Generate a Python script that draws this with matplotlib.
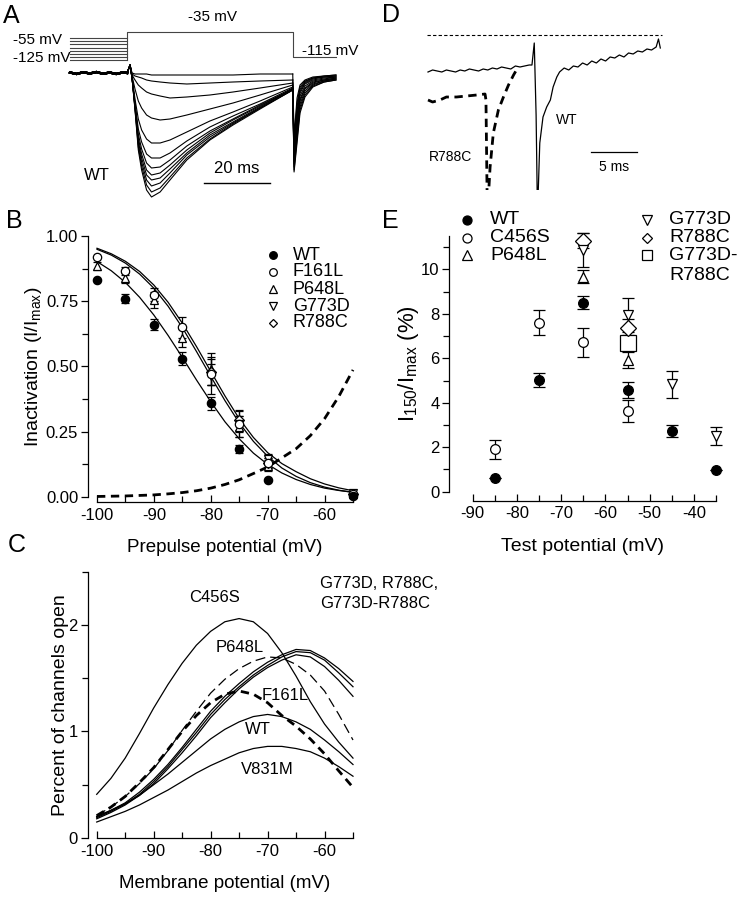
import numpy as np
import matplotlib
matplotlib.use("Agg")
import matplotlib.pyplot as plt

plt.rcParams['font.family'] = ['Liberation Sans', 'DejaVu Sans']
plt.rcParams['mathtext.fontset'] = 'custom'
plt.rcParams['mathtext.rm'] = 'Liberation Sans'
plt.rcParams['axes.unicode_minus'] = False

W, H = 738, 900

# ---------------- data ----------------
# A: voltage protocol (mV) and current traces (nA)
prepulse_mv = [-55, -65, -75, -85, -95, -105, -115, -125]
test_mv = -35
tail_mv = -115
t_prepulse_end = 17.3
t_test_end = 67.6
t_tail_end = 80.6

t_base = [0, 2, 4, 6, 8, 10, 12, 14, 16, 17.3]
i_base = [0.05, -0.1, 0.08, -0.05, 0.1, -0.08, 0.05, -0.1, 0.06, 0.0]
t_main = [17.3, 18.2, 18.8, 19.7, 20.7, 21.7, 23.2, 24.7, 27.3, 30.3, 35.4, 42.4, 49.4, 57.6, 67.5]
traces_main = [
    [0, 0.8, 0.0, -0.1, -0.1, -0.1, -0.1, -0.2, -0.2, -0.2, -0.2, -0.2, -0.2, -0.1, -0.1],
    [0, 0.8, -0.1, -0.3, -0.4, -0.5, -0.7, -0.8, -0.9, -1.0, -1.1, -1.0, -0.9, -0.8, -0.7],
    [0, 0.8, -0.2, -0.7, -1.2, -1.5, -1.9, -2.1, -2.3, -2.5, -2.4, -2.2, -1.9, -1.5, -1.0],
    [0, 0.8, -0.3, -1.6, -2.8, -3.5, -4.2, -4.5, -4.7, -4.6, -4.2, -3.6, -3.0, -2.2, -1.2],
    [0, 0.8, -0.4, -2.6, -4.6, -5.7, -6.6, -7.0, -7.0, -6.7, -5.9, -4.8, -3.9, -2.8, -1.4],
    [0, 0.8, -0.5, -3.0, -5.6, -6.9, -8.1, -8.5, -8.5, -8.0, -6.8, -5.4, -4.3, -3.1, -1.5],
    [0, 0.8, -0.5, -3.2, -6.1, -7.6, -9.0, -9.5, -9.4, -8.7, -7.3, -5.8, -4.6, -3.2, -1.6],
    [0, 0.8, -0.5, -3.3, -6.5, -8.1, -9.7, -10.2, -10.0, -9.2, -7.7, -6.0, -4.7, -3.3, -1.6],
    [0, 0.8, -0.5, -3.4, -6.8, -8.5, -10.2, -10.7, -10.5, -9.6, -8.0, -6.2, -4.9, -3.4, -1.6],
    [0, 0.8, -0.5, -3.5, -7.1, -8.9, -10.7, -11.3, -11.0, -10.0, -8.2, -6.4, -5.0, -3.5, -1.7],
    [0, 0.8, -0.5, -3.6, -7.4, -9.3, -11.2, -11.9, -11.5, -10.4, -8.5, -6.6, -5.1, -3.5, -1.7],
    [0, 0.8, -0.5, -3.7, -7.7, -9.7, -11.7, -12.4, -11.9, -10.7, -8.7, -6.7, -5.2, -3.6, -1.7],
]
t_tail = [67.5, 67.9, 68.8, 69.7, 71.2, 73.6, 77.0, 80.6]
traces_tail = [
    [-0.1, -6.4, -2.5, -1.2, -0.7, -0.4, -0.3, -0.2],
    [-0.7, -6.8, -3.0, -1.4, -0.8, -0.5, -0.3, -0.2],
    [-1.0, -7.2, -3.4, -1.6, -0.9, -0.5, -0.4, -0.3],
    [-1.2, -7.6, -3.8, -1.8, -1.0, -0.6, -0.4, -0.3],
    [-1.4, -7.9, -4.2, -2.0, -1.1, -0.7, -0.5, -0.4],
    [-1.5, -8.2, -4.6, -2.3, -1.3, -0.8, -0.6, -0.4],
    [-1.6, -8.5, -5.0, -2.6, -1.5, -0.9, -0.7, -0.5],
    [-1.6, -8.8, -5.4, -2.8, -1.6, -1.0, -0.7, -0.5],
    [-1.6, -9.1, -5.8, -3.1, -1.8, -1.1, -0.8, -0.6],
    [-1.7, -9.4, -6.2, -3.4, -2.0, -1.2, -0.8, -0.6],
    [-1.7, -9.7, -6.6, -3.7, -2.2, -1.3, -0.9, -0.7],
    [-1.7, -9.9, -7.0, -4.0, -2.4, -1.4, -0.9, -0.7],
]

# B: steady-state inactivation
v_b = [-100, -95, -90, -85, -80, -75, -70, -55]
wt_b = [0.83, 0.76, 0.66, 0.53, 0.36, 0.185, 0.065, 0.003]
wt_b_err = [0.0, 0.017, 0.022, 0.025, 0.025, 0.016, 0.0, 0.0]
f161l_b = [0.92, 0.865, 0.775, 0.65, 0.47, 0.28, 0.13, 0.012]
f161l_b_err = [0.0, 0.015, 0.025, 0.04, 0.04, 0.03, 0.02, 0.0]
p648l_b = [0.885, 0.84, 0.755, 0.61, 0.49, 0.27, 0.12, 0.01]
p648l_b_err = [0.015, 0.02, 0.03, 0.035, 0.06, 0.04, 0.02, 0.0]
v_b2 = [-80, -75, -70, -55]
g773d_b = [0.465, 0.28, 0.145, 0.015]
g773d_b_err = [0.07, 0.05, 0.02, 0.0]
r788c_b = [0.48, 0.295, 0.13, 0.012]
r788c_b_err = [0.05, 0.04, 0.02, 0.0]

v_fit = [-100, -97.5, -95, -92.5, -90, -87.5, -85, -82.5, -80, -77.5, -75,
         -72.5, -70, -67.5, -65, -62.5, -60, -57.5, -55]
fit_wt = [0.902, 0.867, 0.822, 0.765, 0.697, 0.619, 0.535, 0.448, 0.365, 0.288,
          0.223, 0.168, 0.125, 0.092, 0.067, 0.048, 0.034, 0.025, 0.018]
fit_mut1 = [0.953, 0.932, 0.903, 0.864, 0.812, 0.746, 0.666, 0.576, 0.481, 0.387,
            0.300, 0.228, 0.170, 0.128, 0.097, 0.070, 0.050, 0.035, 0.024]
fit_mut2 = [0.949, 0.927, 0.896, 0.854, 0.800, 0.731, 0.649, 0.557, 0.462, 0.369,
            0.284, 0.213, 0.156, 0.111, 0.079, 0.055, 0.038, 0.026, 0.018]
act_b = [0.002, 0.003, 0.004, 0.006, 0.008, 0.012, 0.017, 0.024, 0.034, 0.048,
         0.066, 0.09, 0.115, 0.15, 0.185, 0.235, 0.30, 0.385, 0.487]

# C: window currents
c456s_c = [0.41, 0.56, 0.75, 0.98, 1.22, 1.44, 1.64, 1.81, 1.94, 2.03, 2.06,
           2.03, 1.92, 1.74, 1.52, 1.28, 1.07, 0.90, 0.75]
p648l_c = [0.21, 0.29, 0.39, 0.51, 0.65, 0.82, 1.01, 1.19, 1.36, 1.49, 1.59,
           1.66, 1.70, 1.69, 1.63, 1.53, 1.38, 1.16, 0.92]
f161l_c = [0.21, 0.29, 0.39, 0.52, 0.66, 0.83, 1.00, 1.15, 1.27, 1.35, 1.38,
           1.35, 1.27, 1.15, 1.05, 0.93, 0.79, 0.63, 0.475]
wt_c = [0.20, 0.26, 0.32, 0.40, 0.50, 0.60, 0.71, 0.82, 0.93, 1.02, 1.09,
        1.14, 1.16, 1.14, 1.09, 1.02, 0.92, 0.81, 0.69]
v831m_c = [0.15, 0.20, 0.25, 0.31, 0.38, 0.45, 0.53, 0.61, 0.68, 0.74, 0.80,
           0.84, 0.86, 0.86, 0.84, 0.81, 0.75, 0.67, 0.58]
g773d_c = [0.20, 0.26, 0.33, 0.43, 0.55, 0.69, 0.85, 1.02, 1.19, 1.33, 1.45,
           1.56, 1.65, 1.72, 1.77, 1.76, 1.69, 1.59, 1.47]
r788c_c = [0.19, 0.25, 0.32, 0.41, 0.53, 0.67, 0.83, 0.99, 1.16, 1.30, 1.42,
           1.53, 1.62, 1.70, 1.75, 1.74, 1.67, 1.55, 1.42]
dbl_c = [0.18, 0.24, 0.31, 0.40, 0.51, 0.65, 0.80, 0.96, 1.13, 1.27, 1.40,
         1.51, 1.60, 1.67, 1.72, 1.70, 1.61, 1.48, 1.33]

# D: R788C vs WT traces
t_wt_d = [0, 0.5, 1, 1.5, 2, 2.5, 3, 3.5, 4, 4.5, 5, 5.5, 6, 6.5, 7, 7.5, 8, 8.5,
          9, 9.5, 10, 10.5, 11, 11.3, 11.55, 11.75, 11.9, 12.15, 12.5, 12.9, 13.3,
          13.6, 14.0, 14.3, 14.8, 15.3, 15.8, 16.3, 16.8, 17.3, 17.8, 18.3, 18.8,
          19.3, 19.8, 20.3, 20.8, 21.3, 21.8, 22.3, 22.8, 23.3, 23.8, 24.3, 24.8,
          25.05, 25.25]
i_wt_d = [-3.7, -3.5, -3.6, -3.7, -3.5, -3.6, -3.7, -3.5, -3.6, -3.4, -3.5, -3.6,
          -3.4, -3.5, -3.3, -3.4, -3.2, -3.3, -3.4, -3.1, -3.2, -3.1, -3.0, -3.0,
          -0.8, -8.0, -18.0, -10.8, -8.2, -7.2, -6.5, -5.2, -4.2, -3.7, -3.3,
          -3.5, -3.1, -3.2, -2.8, -3.0, -2.6, -2.8, -2.4, -2.6, -2.2, -2.3, -2.0,
          -2.2, -1.8, -1.9, -1.6, -1.7, -1.4, -1.5, -1.2, -0.4, -1.3]
t_r788c_d = [0, 0.5, 1.3, 2.0, 3.1, 4.2, 5.3, 6.2, 6.3, 6.45, 6.75, 7.1, 7.65,
             8.2, 8.75, 9.3, 9.8]
i_r788c_d = [-6.5, -6.7, -6.5, -6.2, -6.2, -6.1, -6.0, -5.9, -6.5, -18.0, -13.2,
             -9.8, -7.5, -6.2, -5.0, -4.0, -3.2]

# E: I150/Imax
v_e = [-85, -75, -65, -55, -45, -35]
wt_e = [0.6, 5.02, 8.5, 4.57, 2.73, 0.97]
wt_e_err = [0.0, 0.32, 0.3, 0.37, 0.25, 0.0]
v_e_c456s = [-85, -75, -65, -55]
c456s_e = [1.9, 7.6, 6.72, 3.63]
c456s_e_err = [0.42, 0.55, 0.65, 0.5]
v_e_p648l = [-65, -55]
p648l_e = [9.67, 5.92]
p648l_e_err = [0.28, 0.35]
v_e_g773d = [-65, -55, -45, -35]
g773d_e = [10.87, 7.95, 4.83, 2.5]
g773d_e_err = [0.75, 0.75, 0.62, 0.4]
v_e_r788c = [-65, -55]
r788c_e = [11.29, 7.35]
r788c_e_err = [0.35, 0.4]
v_e_dbl = [-55]
dbl_e = [6.7]
dbl_e_err = [0.35]


# ---------------- helpers ----------------
def add_ax(l, t, r, b):
    return fig.add_axes([l / W, 1 - b / H, (r - l) / W, (b - t) / H])


def ftext(x, y, s, **kw):
    fig.text(x / W, 1 - y / H, s, **kw)


def fmark(x, y, marker, filled, size):
    fc = 'black' if filled else 'white'
    fig.add_artist(plt.Line2D([x / W], [1 - y / H], marker=marker, ms=size,
                              mfc=fc, mec='black', mew=0.9, ls='none',
                              transform=fig.transFigure))


def style_axes(ax, left_out, bottom_out):
    for s in ['top', 'right']:
        ax.spines[s].set_visible(False)
    ax.spines['left'].set_position(('outward', left_out))
    ax.spines['bottom'].set_position(('outward', bottom_out))
    ax.spines['left'].set_linewidth(0.9)
    ax.spines['bottom'].set_linewidth(0.9)
    ax.tick_params(axis='x', which='both', direction='in', width=0.9, labelsize=12, pad=4)
    ax.tick_params(axis='y', which='both', direction='out', width=0.9, labelsize=12, pad=2)
    ax.tick_params(which='major', length=5)
    ax.tick_params(which='minor', length=4)
    ax.patch.set_visible(False)


fig = plt.figure(figsize=(7.38, 9.0), dpi=100)

# ---------------- A ----------------
axA = add_ax(60, 0, 360, 205)
axA.set_xlim((60 - 70) / 3.3, (360 - 70) / 3.3)
axA.set_ylim(-13.2, 7.3)
axA.axis('off')
for tm, tt in zip(traces_main, traces_tail):
    axA.plot(t_base, i_base, color='black', lw=1.6)
    axA.plot(t_main, tm, color='black', lw=0.8)
    axA.plot(t_tail, tt, color='black', lw=0.8)
axA.plot([40.6, 60.6], [-11.0, -11.0], color='black', lw=1.0)
axA.text(50.6, -10.3, '20 ms', ha='center', va='bottom', fontsize=12)
axA.text(8.2, -10.2, 'WT', ha='center', va='center', fontsize=12)

axV = add_ax(60, 0, 360, 205)
axV.set_xlim((60 - 70) / 3.3, (360 - 70) / 3.3)
axV.set_ylim(-591, 67.9)
axV.axis('off')
for v in prepulse_mv:
    axV.plot([0, t_prepulse_end], [v, v], color='#444444', lw=0.8)
axV.plot([t_prepulse_end, t_prepulse_end, t_test_end, t_test_end, t_tail_end],
         [min(prepulse_mv), test_mv, test_mv, tail_mv, tail_mv], color='#444444', lw=0.8)
ftext(13, 40, '-55 mV', ha='left', va='center', fontsize=11)
ftext(13, 58, '-125 mV', ha='left', va='center', fontsize=11)
ftext(213, 17, '-35 mV', ha='center', va='center', fontsize=11)
ftext(302, 51, '-115 mV', ha='left', va='center', fontsize=11)

# ---------------- B ----------------
axB = add_ax(97, 236, 353, 497)
style_axes(axB, 6.5, 3.6)
axB.set_xlim(-100, -55)
axB.set_ylim(0, 1)
axB.set_xticks([-100, -90, -80, -70, -60])
axB.set_xticks([-95, -85, -75, -65, -55], minor=True)
axB.set_yticks([0, 0.25, 0.5, 0.75, 1.0])
axB.set_yticklabels(['0.00', '0.25', '0.50', '0.75', '1.00'])
axB.set_yticks([0.125, 0.375, 0.625, 0.875], minor=True)
axB.plot(v_fit, fit_wt, color='black', lw=0.9, clip_on=False)
axB.plot(v_fit, fit_mut1, color='black', lw=0.9, clip_on=False)
axB.plot(v_fit, fit_mut2, color='black', lw=0.9, clip_on=False)
axB.plot(v_fit, act_b, color='black', lw=2.0, ls=(0, (3, 2)), clip_on=False)
ekw = dict(color='black', elinewidth=0.9, capsize=3, capthick=0.9, ls='none',
           ms=6, mec='black', mew=0.9, clip_on=False)
axB.errorbar(v_b, p648l_b, yerr=p648l_b_err, marker='^', mfc='white', **ekw)
axB.errorbar(v_b2, r788c_b, yerr=r788c_b_err, marker='D', mfc='white', **dict(ekw, ms=5))
axB.errorbar(v_b2, g773d_b, yerr=g773d_b_err, marker='v', mfc='white', **ekw)
axB.errorbar(v_b, f161l_b, yerr=f161l_b_err, marker='o', mfc='white', **ekw)
axB.errorbar(v_b, wt_b, yerr=wt_b_err, marker='o', mfc='black', **ekw)
axB.set_xlabel('Prepulse potential (mV)', fontsize=13.5, labelpad=12)
axB.set_ylabel(r'Inactivation ($\mathregular{I/I_{max}}$)', fontsize=14, labelpad=1)

leg_b = [('WT', 'o', True), ('F161L', 'o', False), ('P648L', '^', False),
         ('G773D', 'v', False), ('R788C', 'D', False)]
for k, (name, m, filled) in enumerate(leg_b):
    y = 255 + 17 * k
    fmark(273, y, m, filled, 5.5 if m != 'D' else 4.5)
    ftext(293, y, name, ha='left', va='center', fontsize=13)

# ---------------- C ----------------
axC = add_ax(96.7, 571.7, 353, 838)
style_axes(axC, 6.5, 0)
axC.set_xlim(-100, -55)
axC.set_ylim(0, 2.5)
axC.set_xticks([-100, -90, -80, -70, -60])
axC.set_xticks([-95, -85, -75, -65, -55], minor=True)
axC.set_yticks([0, 1, 2])
axC.set_yticks([0.5, 1.5, 2.5], minor=True)
for yc in [c456s_c, wt_c, v831m_c, g773d_c, r788c_c, dbl_c]:
    axC.plot(v_fit, yc, color='black', lw=0.9, clip_on=False)
axC.plot(v_fit, p648l_c, color='black', lw=0.9, ls=(0, (8, 4)), clip_on=False)
axC.plot(v_fit, f161l_c, color='black', lw=2.0, ls=(0, (3, 2)), clip_on=False)
axC.set_xlabel('Membrane potential (mV)', fontsize=13.5, labelpad=12)
axC.set_ylabel('Percent of channels open', fontsize=14, labelpad=0)
ftext(215, 598, 'C456S', ha='center', va='center', fontsize=12)
ftext(240, 648, 'P648L', ha='center', va='center', fontsize=12)
ftext(285, 695, 'F161L', ha='center', va='center', fontsize=12)
ftext(258, 730, 'WT', ha='center', va='center', fontsize=12)
ftext(267, 770, 'V831M', ha='center', va='center', fontsize=12)
ftext(320, 583, 'G773D, R788C,', ha='left', va='center', fontsize=12)
ftext(320, 604, 'G773D-R788C', ha='left', va='center', fontsize=12)

# ---------------- D ----------------
axD = add_ax(420, 25, 670, 190)
axD.set_xlim((420 - 428) / 9.2, (670 - 428) / 9.2)
axD.set_ylim(-15.5, 1.0)
axD.axis('off')
axD.plot([-0.1, 25.4], [0, 0], color='black', lw=0.8, ls=(0, (3, 2)))
axD.plot(t_wt_d, i_wt_d, color='black', lw=0.9)
axD.plot(t_r788c_d, i_r788c_d, color='black', lw=2.0, ls=(0, (3, 2)))
axD.plot([17.7, 22.7], [-11.7, -11.7], color='black', lw=0.9)
axD.text(20.2, -13.2, '5 ms', ha='center', va='center', fontsize=10)
axD.text(15.1, -8.5, 'WT', ha='center', va='center', fontsize=10)
axD.text(2.4, -12.2, 'R788C', ha='center', va='center', fontsize=10)

# ---------------- E ----------------
px_mv = (716 - 472.7) / 55
axE = add_ax(472.7 - 23.4, 236, 716, 491.7)
style_axes(axE, 0, 6.5)
axE.set_xlim(-90 - 23.4 / px_mv, -35)
axE.set_ylim(0, 11.5)
axE.spines['bottom'].set_bounds(-90, -35)
axE.spines['left'].set_bounds(0, 11.5)
axE.set_xticks([-90, -80, -70, -60, -50, -40])
axE.set_xticks([-85, -75, -65, -55, -45, -35], minor=True)
axE.set_yticks([0, 2, 4, 6, 8, 10])
axE.set_yticks([1, 3, 5, 7, 9, 11], minor=True)
ekwE = dict(color='black', elinewidth=0.9, capsize=4, capthick=0.9, ls='none',
            ms=7, mec='black', mew=0.9, clip_on=False)
axE.errorbar(v_e_dbl, dbl_e, yerr=dbl_e_err, marker='s', mfc='white', **dict(ekwE, ms=11))
axE.errorbar(v_e_r788c, r788c_e, yerr=r788c_e_err, marker='D', mfc='white', **dict(ekwE, ms=8))
axE.errorbar(v_e_g773d, g773d_e, yerr=g773d_e_err, marker='v', mfc='white', **ekwE)
axE.errorbar(v_e_p648l, p648l_e, yerr=p648l_e_err, marker='^', mfc='white', **ekwE)
axE.errorbar(v_e_c456s, c456s_e, yerr=c456s_e_err, marker='o', mfc='white', **ekwE)
axE.errorbar(v_e, wt_e, yerr=wt_e_err, marker='o', mfc='black', **ekwE)
axE.set_xlabel('Test potential (mV)', fontsize=14, labelpad=12)
axE.set_ylabel(r'$\mathregular{I_{150}/I_{max}}$ (%)', fontsize=16, labelpad=0)

leg_e1 = [('WT', 'o', True), ('C456S', 'o', False), ('P648L', '^', False)]
for k, (name, m, filled) in enumerate(leg_e1):
    y = 220 + 17.5 * k
    fmark(467, y, m, filled, 6.5)
    ftext(490, y, name, ha='left', va='center', fontsize=14)
leg_e2 = [('G773D', 'v', False), ('R788C', 'D', False), ('G773D-', 's', False)]
for k, (name, m, filled) in enumerate(leg_e2):
    y = 220 + 17.5 * k
    fmark(647, y, m, filled, 6.5 if m != 'D' else 5.5)
    ftext(669, y, name, ha='left', va='center', fontsize=14)
ftext(669, 275, 'R788C', ha='left', va='center', fontsize=14)

# panel letters
for letter, x, y in [('A', 3, 16), ('B', 6, 221), ('C', 8, 545), ('D', 382, 15), ('E', 382, 221)]:
    ftext(x, y, letter, ha='left', va='center', fontsize=18)

fig.savefig('out.png', dpi=100)
